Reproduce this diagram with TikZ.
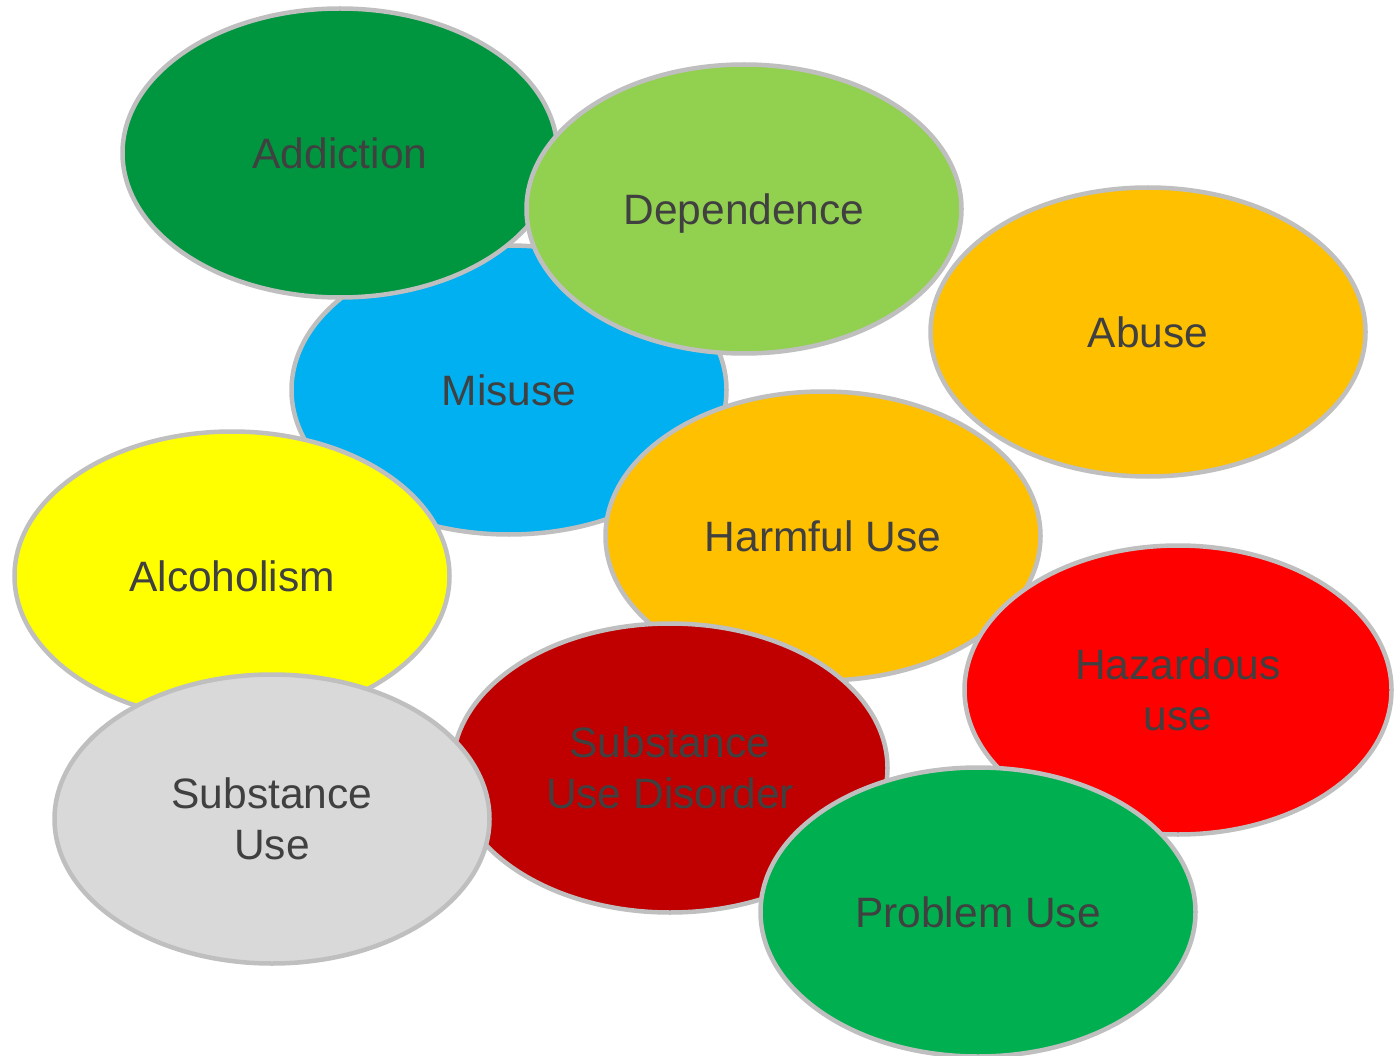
\documentclass[tikz,border=0pt]{standalone}
\usepackage{fontspec}
\setmainfont{Liberation Sans}
\usetikzlibrary{shapes.geometric}
\definecolor{cAdd}{HTML}{009640}
\definecolor{cDep}{HTML}{92D050}
\definecolor{cMis}{HTML}{00B0F0}
\definecolor{cOrg}{HTML}{FFC000}
\definecolor{cAlc}{HTML}{FFFF00}
\definecolor{cSUD}{HTML}{C00000}
\definecolor{cSU}{HTML}{D9D9D9}
\definecolor{cHaz}{HTML}{FF0000}
\definecolor{cPro}{HTML}{00B050}
\definecolor{cBrd}{HTML}{BFBFBF}
\definecolor{cTxt}{HTML}{404040}
\tikzset{
  blob/.style={ellipse, draw=cBrd, line width=4.5pt, minimum width=435pt, minimum height=289pt,
    inner sep=0pt, align=center, text=cTxt, text depth=0pt, font=\fontsize{42.5}{51}\selectfont}
}
\begin{document}
\begin{tikzpicture}[x=1pt,y=-1pt]
\useasboundingbox (0,0) rectangle (1394,1056);
\node[blob, fill=cMis] (misuse) at (509,390) {Misuse};
\node[blob, fill=cAdd] (addiction) at (340,153) {Addiction};
\node[blob, fill=cDep] (dependence) at (744,209) {Dependence};
\node[blob, fill=cOrg] (abuse) at (1148,332) {Abuse};
\node[blob, fill=cOrg] (harmful) at (823,536) {Harmful Use};
\node[blob, fill=cAlc] (alcoholism) at (232,576) {Alcoholism};
\node[blob, fill=cSUD] (sud) at (670,768) {Substance\\Use Disorder};
\node[blob, fill=cSU] (su) at (272,819) {Substance\\Use};
\node[blob, fill=cHaz, minimum width=427pt] (hazardous) at (1178,690) {Hazardous\\use};
\node[blob, fill=cPro] (problem) at (978,912) {Problem Use};
\end{tikzpicture}
\end{document}
